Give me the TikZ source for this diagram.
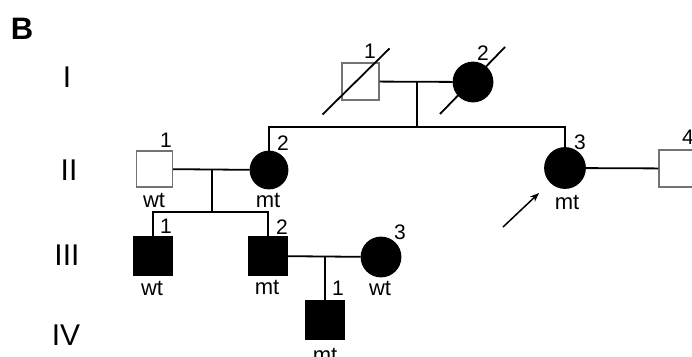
\documentclass[tikz,border=0pt]{standalone}
\usepackage{fontspec}
\setmainfont{Liberation Sans}
\usetikzlibrary{arrows.meta}
\tikzset{
  male/.style={draw=black!55, line width=1.2pt, rectangle, minimum size=37pt, inner sep=0pt},
  malefill/.style={draw=black, fill=black, line width=1.2pt, rectangle, minimum size=38pt, inner sep=0pt},
  femalefill/.style={draw=black, fill=black, circle, minimum size=38pt, inner sep=0pt},
  num/.style={inner sep=0pt, font=\fontsize{21}{21}\selectfont},
  gen/.style={inner sep=0pt, font=\fontsize{30}{30}\selectfont},
  geno/.style={inner sep=0pt, font=\fontsize{22}{22}\selectfont},
}
\begin{document}
\begin{tikzpicture}[x=1pt, y=-1pt, line width=1.8pt]
      \useasboundingbox (0,0) rectangle (692,356);
      \node[inner sep=0pt, font=\fontsize{31}{31}\selectfont\bfseries] (B) at (22,29) {B};
      % generations
      \node[gen] (gI) at (67,77) {I};
      \node[gen] (gII) at (69,170) {II};
      \node[gen] (gIII) at (67,255) {III};
      \node[gen] (gIV) at (66,335) {IV};
      % individuals
      \node[male] (i1) at (360.5,81.5) {};
      \node[femalefill, minimum size=39pt] (i2) at (473,82) {};
      \node[male, minimum size=36pt] (ii1) at (154.5,169) {};
      \node[femalefill, minimum size=37pt] (ii2) at (269,170) {};
      \node[femalefill, minimum size=40pt] (ii3) at (565,168) {};
      \node[male] (ii4) at (677.5,168.5) {};
      \node[malefill] (iii1) at (153,256) {};
      \node[malefill] (iii2) at (268,256) {};
      \node[femalefill, minimum size=39pt] (iii3) at (381,257) {};
      \node[malefill] (iv1) at (325,320) {};
      % numbers
      \node[num] (n-i1) at (370,51) {1};
      \node[num] (n-i2) at (483,53) {2};
      \node[num] (n-ii1) at (166,140) {1};
      \node[num] (n-ii2) at (283,143) {2};
      \node[num] (n-ii3) at (580,142) {3};
      \node[num] (n-ii4) at (688,137) {4};
      \node[num] (n-iii1) at (166,226) {1};
      \node[num] (n-iii2) at (282,227) {2};
      \node[num] (n-iii3) at (400,232) {3};
      \node[num] (n-iv1) at (338,288) {1};
      % genotypes
      \node[geno] (g-ii1) at (154,200) {wt};
      \node[geno] (g-ii2) at (268,200) {mt};
      \node[geno] (g-ii3) at (567,202) {mt};
      \node[geno] (g-iii1) at (152,288) {wt};
      \node[geno] (g-iii2) at (267,287) {mt};
      \node[geno] (g-iii3) at (380,288) {wt};
      \node[geno] (g-iv1) at (325,355) {mt};
      % deceased
      \draw ([shift={(-38,33)}]i1.center) -- ([shift={(29,-33)}]i1.center);
      \draw ([shift={(-33,32)}]i2.center) -- ([shift={(32,-35)}]i2.center);
      % matings and descent
      \coordinate (m1) at (417,82);
      \coordinate (s1) at (417,127);
      \coordinate (m2) at (212,169);
      \coordinate (s2) at (212,212);
      \coordinate (m3) at (325,257);
      \draw (i1) -- (i2);
      \draw (m1) -- (s1);
      \draw (ii2) |- (s1) -| (ii3);
      \draw (ii1) -- (ii2);
      \draw (ii3) -- (ii4);
      \draw (m2) -- (s2);
      \draw (iii1) |- (s2) -| (iii2);
      \draw (iii2) -- (iii3);
      \draw (m3) -- (iv1);
      % proband
      \coordinate (p0) at (503,227);
      \coordinate (p1) at (539,193);
      \draw[line width=1.5pt, -{Stealth[length=9pt, width=7pt]}] (p0) -- (p1);
    \end{tikzpicture}
\end{document}
